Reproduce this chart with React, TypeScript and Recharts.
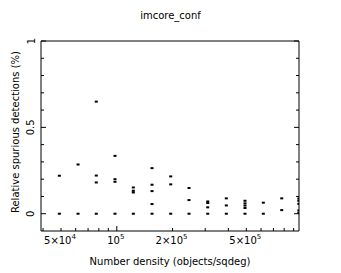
import { ScatterChart, Scatter, XAxis, YAxis } from 'recharts';

// number density of each test field (objects/sqdeg)
const densities = [49000, 61800, 77500, 97800, 122800, 154900, 195400, 245300, 309500, 389900, 491800, 617500, 776200, 960000];

// relative spurious detections (%) measured at each density
const detections: number[][] = [
  [0.22, 0],
  [0.285, 0],
  [0.649, 0.221, 0.181, 0],
  [0.335, 0.2, 0.185, 0],
  [0.152, 0.133, 0.123, 0],
  [0.264, 0.168, 0.131, 0.056, 0],
  [0.216, 0.17, 0],
  [0.149, 0.079, 0],
  [0.071, 0.062, 0.037, 0],
  [0.089, 0.048, 0],
  [0.075, 0.06, 0.047, 0.033, 0],
  [0.064, 0],
  [0.089, 0.021],
  [0.088, 0.075, 0.057, 0.019, 0.005],
];

const xMajorTicks = [100000];
const xMinorTicks = [40000, 50000, 60000, 70000, 80000, 90000, 200000, 300000, 400000, 500000, 600000, 700000, 800000, 900000];
const xTickLabels: Record<number, [string, string]> = {
  50000: ['5×10', '4'],
  100000: ['10', '5'],
  200000: ['2×10', '5'],
  500000: ['5×10', '5'],
};

const yMajorTicks = [0, 0.5, 1];
const yMinorTicks = [0.1, 0.2, 0.3, 0.4, 0.6, 0.7, 0.8, 0.9];
const yTickLabels = ['0', '0.5', '1'];

const FONT = '"DejaVu Sans", Arial, sans-serif';
const xTicks = [...xMinorTicks, ...xMajorTicks].sort((a, b) => a - b);
const yTicks = [...yMajorTicks, ...yMinorTicks].sort((a, b) => a - b);
const points = densities.flatMap((d, i) => detections[i].map((v) => ({ x: d, y: v })));

function XTick(props: any) {
  const { x, y, payload, side } = props;
  const v = payload.value;
  const len = xMajorTicks.includes(v) ? 5 : 3;
  const dir = side === 'top' ? 1 : -1;
  const lbl = side === 'bottom' ? xTickLabels[v] : undefined;
  return (
    <g>
      <line x1={x} y1={y} x2={x} y2={y + dir * len} stroke="#000" strokeWidth={1} />
      {lbl && (
        <text x={x - 1} y={y + 13} textAnchor="middle" fontSize={10} fontFamily={FONT} fill="#000">
          <tspan>{lbl[0]}</tspan>
          <tspan dy={-5} fontSize={7}>{lbl[1]}</tspan>
        </text>
      )}
    </g>
  );
}

function YTick(props: any) {
  const { x, y, payload, side } = props;
  const v = payload.value;
  const idx = yMajorTicks.indexOf(v);
  const len = idx >= 0 ? 5 : 3;
  const dir = side === 'left' ? 1 : -1;
  return (
    <g>
      <line x1={x} y1={y} x2={x + dir * len} y2={y} stroke="#000" strokeWidth={1} />
      {side === 'left' && idx >= 0 && (
        <text
          x={x - 10}
          y={y}
          transform={`rotate(-90 ${x - 10} ${y})`}
          textAnchor="middle"
          dominantBaseline="central"
          fontSize={10}
          fontFamily={FONT}
          fill="#000"
        >
          {yTickLabels[idx]}
        </text>
      )}
    </g>
  );
}

const Dot = (props: any) => <rect x={props.cx - 1.5} y={props.cy - 1} width={3} height={2} fill="#000" />;

export default function App() {
  const xDomain = [39000, 962000];
  const yDomain = [-0.1, 1];
  return (
    <div style={{ position: 'absolute', left: 0, top: 0, width: 341, height: 273, background: '#fff' }}>
      <div
        style={{
          position: 'absolute',
          left: 0,
          width: 341,
          top: 10,
          textAlign: 'center',
          fontFamily: FONT,
          fontSize: 10,
          color: '#000',
        }}
      >
        imcore_conf
      </div>
      <ScatterChart width={341} height={273} margin={{ top: 0, right: 0, bottom: 0, left: 0 }}>
        <XAxis
          xAxisId="bottom"
          dataKey="x"
          type="number"
          scale="log"
          domain={xDomain}
          allowDataOverflow
          ticks={xTicks}
          interval={0}
          height={42}
          tickSize={0}
          tickMargin={0}
          tickLine={false}
          axisLine={{ stroke: '#000' }}
          tick={<XTick side="bottom" />}
          label={{
            content: ({ viewBox }: any) => (
              <text
                x={viewBox.x + viewBox.width / 2}
                y={viewBox.y + 34}
                textAnchor="middle"
                fontSize={10}
                fontFamily={FONT}
                fill="#000"
              >
                Number density (objects/sqdeg)
              </text>
            ),
          }}
        />
        <XAxis
          xAxisId="top"
          orientation="top"
          type="number"
          scale="log"
          domain={xDomain}
          allowDataOverflow
          ticks={xTicks}
          interval={0}
          height={41}
          tickSize={0}
          tickMargin={0}
          tickLine={false}
          axisLine={{ stroke: '#000' }}
          tick={<XTick side="top" />}
        />
        <YAxis
          yAxisId="left"
          dataKey="y"
          type="number"
          domain={yDomain}
          allowDataOverflow
          ticks={yTicks}
          interval={0}
          width={41}
          tickSize={0}
          tickMargin={0}
          tickLine={false}
          axisLine={{ stroke: '#000' }}
          tick={<YTick side="left" />}
          label={{
            content: ({ viewBox }: any) => {
              const cx = viewBox.x + 15;
              const cy = viewBox.y + viewBox.height / 2 - 4;
              return (
                <text
                  x={cx}
                  y={cy}
                  transform={`rotate(-90 ${cx} ${cy})`}
                  textAnchor="middle"
                  dominantBaseline="central"
                  fontSize={10}
                  fontFamily={FONT}
                  fill="#000"
                >
                  Relative spurious detections (%)
                </text>
              );
            },
          }}
        />
        <YAxis
          yAxisId="right"
          orientation="right"
          type="number"
          domain={yDomain}
          allowDataOverflow
          ticks={yTicks}
          interval={0}
          width={42}
          tickSize={0}
          tickMargin={0}
          tickLine={false}
          axisLine={{ stroke: '#000' }}
          tick={<YTick side="right" />}
        />
        <Scatter
          data={points}
          xAxisId="bottom"
          yAxisId="left"
          fill="#000"
          shape={Dot}
          isAnimationActive={false}
        />
      </ScatterChart>
    </div>
  );
}
